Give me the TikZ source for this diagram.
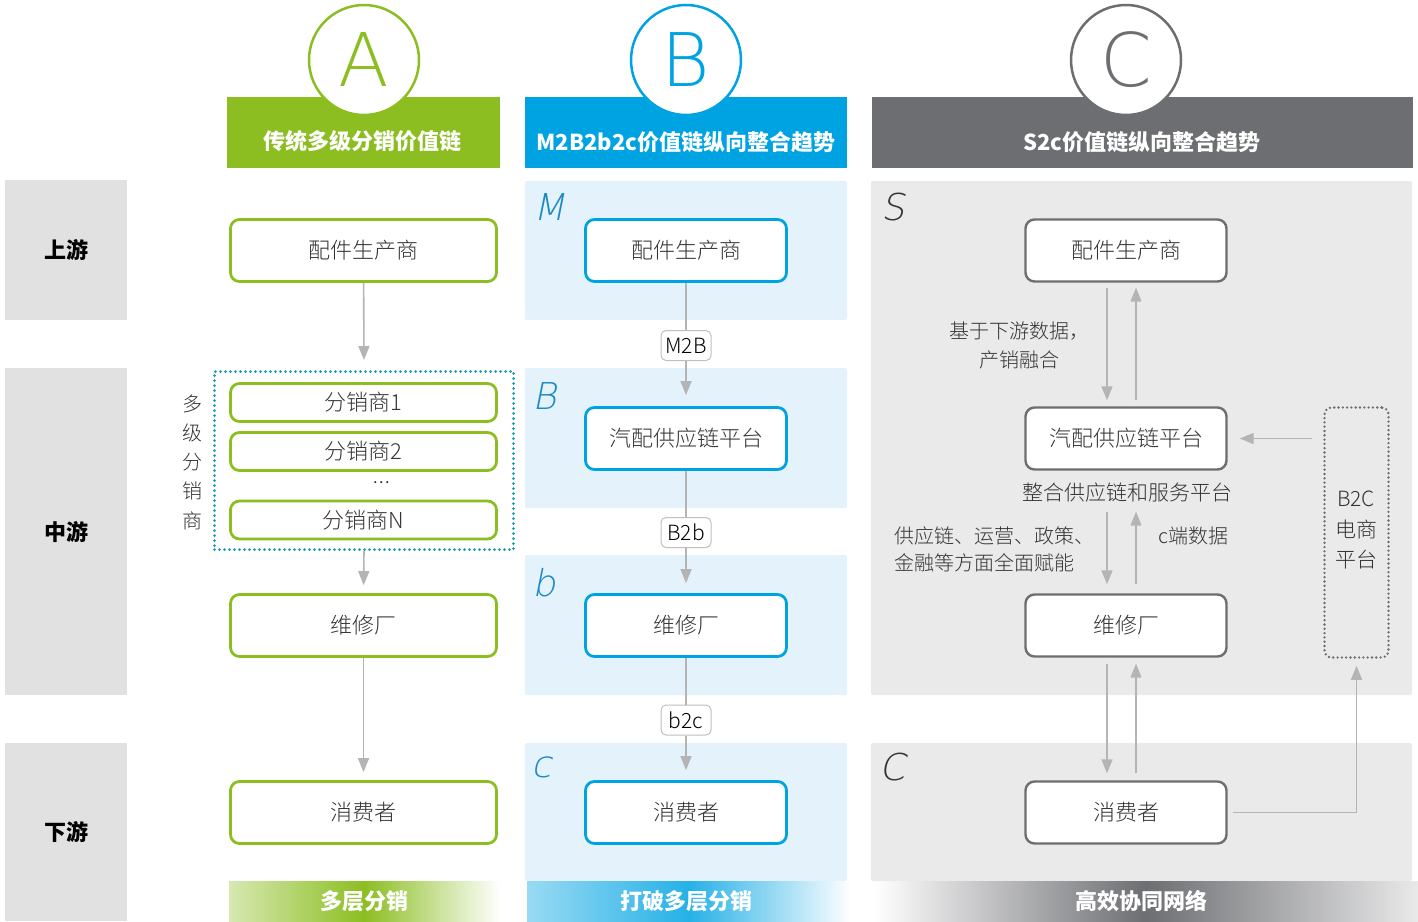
\documentclass[tikz,border=0pt]{standalone}
\usepackage{fontspec}
\setmainfont{Noto Sans CJK SC}
\newfontfamily\latinf{Open Sans}
\IfFontExistsTF{DejaVu Sans ExtraLight}{%
  \newfontfamily\thinf{DejaVu Sans ExtraLight}%
  \newfontfamily\thinit{DejaVu Sans ExtraLight}[FakeSlant=0.2]%
}{%
  \newfontfamily\thinf{Open Sans}%
  \newfontfamily\thinit{Open Sans}[FakeSlant=0.2]%
}
\IfFontExistsTF{Noto Sans CJK SC Light}{%
  \newfontfamily\boxf{Noto Sans CJK SC Light}%
}{%
  \newfontfamily\boxf{Noto Sans CJK SC}%
}
\usetikzlibrary{arrows.meta}
\definecolor{cgreen}{HTML}{8CBE22}
\definecolor{cblue}{HTML}{00A3E2}
\definecolor{cgray}{HTML}{6D6E72}
\definecolor{lblue}{HTML}{E4F2FC}
\definecolor{lgray}{HTML}{EAEAEA}
\definecolor{rowgray}{HTML}{E1E1E1}
\definecolor{arrgray}{HTML}{B4B4B4}
\definecolor{cteal}{HTML}{1B9BB5}
\definecolor{txt}{HTML}{333333}
\definecolor{ltr}{HTML}{1A8AC6}
\tikzset{
  box/.style={draw, rounded corners=9pt, line width=2.8pt, fill=white, minimum width=266pt, minimum height=62pt, inner sep=0pt, font=\boxf\fontsize{22}{26}\selectfont, text=txt},
  boxA/.style={box, draw=cgreen},
  boxB/.style={box, draw=cblue, minimum width=201pt},
  boxC/.style={box, draw=cgray, line width=2.4pt, minimum width=201pt},
  hdrbar/.style={inner sep=0pt, minimum height=71pt},
  hdrtxt/.style={text=white, font=\fontsize{22}{26}\selectfont\bfseries},
  bigc/.style={circle, fill=white, line width=2.5pt, minimum size=110pt, inner sep=0pt, font=\thinf\fontsize{74}{74}\selectfont},
  rowlbl/.style={fill=rowgray, minimum width=122pt, inner sep=0pt, font=\fontsize{22}{26}\selectfont\bfseries, text=black},
  bartxt/.style={text=white, font=\fontsize{22}{26}\selectfont\bfseries},
  arr/.style={draw=arrgray, line width=1.6pt, -{Triangle[length=14pt,width=11pt]}},
  plain/.style={draw=arrgray, line width=1.6pt},
  lbl/.style={draw=arrgray!85, rounded corners=5pt, fill=white, line width=1pt, inner sep=2pt, minimum width=50pt, minimum height=30pt, font=\boxf\fontsize{21}{24}\selectfont, text=black},
  itl/.style={font=\thinit\fontsize{37}{37}\selectfont},
  note/.style={font=\boxf\fontsize{20}{28}\selectfont, text=txt},
}
\begin{document}
\begin{tikzpicture}[x=1pt,y=-1pt]
\useasboundingbox (0,0) rectangle (1418,921);
% row labels
\node[rowlbl, minimum height=140pt] (rup) at (66,250) {上游};
\node[rowlbl, minimum height=327pt] (rmid) at (66,531.5) {中游};
\node[rowlbl, minimum height=178pt] (rdown) at (66,832) {下游};
% column B panels
\fill[lblue, rounded corners=2pt] (525,181) rectangle (847,320);
\fill[lblue, rounded corners=2pt] (525,368) rectangle (847,508);
\fill[lblue, rounded corners=2pt] (525,555) rectangle (847,695);
\fill[lblue, rounded corners=2pt] (525,743) rectangle (847,881);
% column C panels
\fill[lgray, rounded corners=2pt] (871,181) rectangle (1412,695);
\fill[lgray, rounded corners=2pt] (871,743) rectangle (1412,881);
% header bars
\node[hdrbar, fill=cgreen, minimum width=273pt] (hA) at (363.5,132.5) {};
\node[hdrbar, fill=cblue, minimum width=322pt] (hB) at (686,132.5) {};
\node[hdrbar, fill=cgray, minimum width=541pt] (hC) at (1142.5,132.5) {};
\node[hdrtxt] (hAt) at (362,141) {传统多级分销价值链};
\node[hdrtxt] (hBt) at (686,142) {M2B2b2c价值链纵向整合趋势};
\node[hdrtxt] (hCt) at (1142,142) {S2c价值链纵向整合趋势};
% circles
\node[bigc, draw=cgreen, text=cgreen] (cA) at (364,60) {A};
\node[bigc, draw=cblue, text=cblue] (cB) at (686,60) {B};
\node[bigc, draw=cgray, text=cgray] (cC) at (1126,60) {C};
% bottom bars
\shade[left color=cgreen!35, right color=white, middle color=cgreen] (229,881) rectangle (500,921);
\shade[left color=cblue!40, right color=white, middle color=cblue!85] (527,881) rectangle (851,921);
\shade[left color=white, right color=cgray!15, middle color=cgray] (874,881) rectangle (1418,921);
\node[bartxt] (barA) at (364,901) {多层分销};
\node[bartxt] (barB) at (686,901) {打破多层分销};
\node[bartxt] (barC) at (1141,901) {高效协同网络};
% ===== column A =====
\node[boxA] (a1) at (363.5,250.5) {配件生产商};
\node[draw=cteal, line width=3pt, line cap=round, dash pattern=on 0pt off 5pt, minimum width=299pt, minimum height=178pt, inner sep=0pt] (adots) at (364,460.5) {};
\node[boxA, minimum height=38pt] (a2) at (363.5,402.5) {分销商1};
\node[boxA, minimum height=38pt] (a3) at (363.5,451.5) {分销商2};
\node[text=txt, font=\fontsize{16}{18}\selectfont] (adot) at (381,483) {…};
\node[boxA, minimum height=38pt] (aN) at (363.5,520) {分销商N};
\node[boxA] (a4) at (363.5,625.5) {维修厂};
\node[boxA] (a5) at (363.5,812.5) {消费者};
\node[note, align=center, font=\boxf\fontsize{20}{29.3}\selectfont] (avert) at (192,462) {多\\级\\分\\销\\商};
\draw[arr, shorten >=10pt] (a1) -- (adots.north);
\draw[arr, shorten >=8pt] (adots.south) -- (a4.north);
\draw[arr, shorten >=8pt] (a4) -- (a5.north);
% ===== column B =====
\node[itl, text=ltr] (lM) at (549,207) {M};
\node[itl, text=ltr] (lB) at (545,396) {B};
\node[itl, text=ltr] (lb) at (544,583) {b};
\node[itl, text=ltr] (lc) at (542,767) {c};
\node[boxB] (b1) at (686,250.5) {配件生产商};
\node[boxB] (b2) at (686,438.5) {汽配供应链平台};
\node[boxB] (b3) at (686,625.5) {维修厂};
\node[boxB] (b4) at (686,812.5) {消费者};
\node[lbl] (m2b) at (686,345.5) {M2B};
\node[lbl] (b2b) at (686,532.5) {B2b};
\node[lbl] (b2c) at (686,720) {b2c};
\draw[plain] (b1) -- (m2b);
\draw[arr, shorten >=11pt] (m2b) -- (b2.north);
\draw[plain] (b2) -- (b2b);
\draw[arr, shorten >=10pt] (b2b) -- (b3.north);
\draw[plain] (b3) -- (b2c);
\draw[arr, shorten >=10pt] (b2c) -- (b4.north);
% ===== column C =====
\node[itl, text=txt] (lS) at (893,207) {S};
\node[itl, text=txt] (lC) at (892,767) {C};
\node[boxC] (c1) at (1126,250.5) {配件生产商};
\node[boxC] (c2) at (1126,438.5) {汽配供应链平台};
\node[boxC] (c3) at (1126,625.5) {维修厂};
\node[boxC] (c4) at (1126,812.5) {消费者};
\node[draw=cgray, line width=2.6pt, line cap=round, dash pattern=on 0pt off 4.3pt, rounded corners=7pt, minimum width=64pt, minimum height=250pt, inner sep=0pt] (b2cbox) at (1356.5,532.5) {};
\node[note, align=center, font=\boxf\fontsize{21}{30.5}\selectfont] (b2ct) at (1356,530) {B2C\\电商\\平台};
\node[note, align=center, font=\boxf\fontsize{20}{29}\selectfont] (t1) at (1019,345) {基于下游数据，\\产销融合};
\node[note, font=\boxf\fontsize{21}{25}\selectfont] (t2) at (1127,493) {整合供应链和服务平台};
\node[note, anchor=west, align=left, font=\boxf\fontsize{20}{27}\selectfont] (t3) at (891,549.5) {供应链、运营、政策、\\金融等方面全面赋能};
\node[note, anchor=west] (t4) at (1155,536) {c端数据};
\draw[arr, shorten <=5pt, shorten >=6pt] ([xshift=-19pt]c1.south) -- ([xshift=-19pt]c2.north);
\draw[arr, shorten <=6pt, shorten >=5pt] ([xshift=10pt]c2.north) -- ([xshift=10pt]c1.south);
\draw[arr, shorten <=41pt, shorten >=9pt] ([xshift=-19pt]c2.south) -- ([xshift=-19pt]c3.north);
\draw[arr, shorten <=9pt, shorten >=41pt] ([xshift=10pt]c3.north) -- ([xshift=10pt]c2.south);
\draw[arr, shorten <=6pt, shorten >=7pt] ([xshift=-19pt]c3.south) -- ([xshift=-19pt]c4.north);
\draw[arr, shorten <=7pt, shorten >=6pt] ([xshift=10pt]c4.north) -- ([xshift=10pt]c3.south);
\draw[arr, shorten <=11pt, shorten >=12pt] (b2cbox.west |- c2.east) -- (c2.east);
\draw[arr, shorten <=5pt, shorten >=7pt] (c4.east) -| (b2cbox.south);
\end{tikzpicture}
\end{document}
